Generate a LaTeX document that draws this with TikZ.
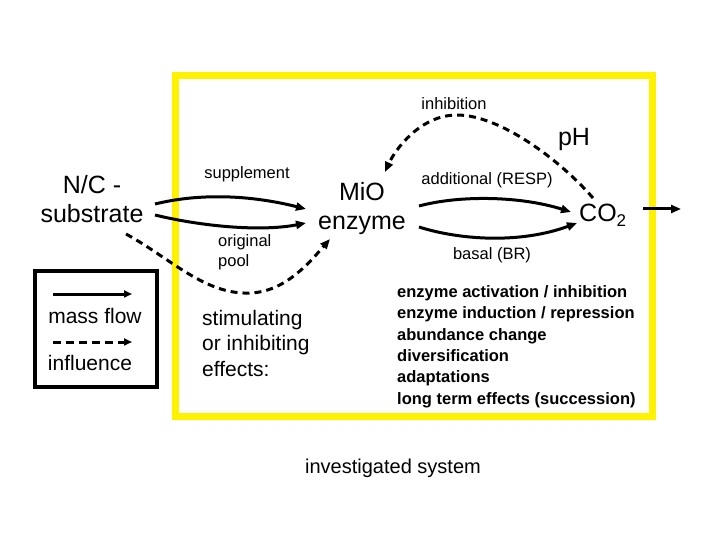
\documentclass[tikz,border=0pt]{standalone}
\usepackage{fontspec}
\setmainfont{Liberation Sans}
\usetikzlibrary{arrows.meta}
\tikzset{
  flow/.style={line width=3pt,-{Triangle[length=10pt,width=8pt]}},
  infl/.style={line width=3pt,dash pattern=on 7pt off 5pt,-{Triangle[length=10pt,width=8pt]}},
  big/.style={font=\fontsize{25}{29}\selectfont,inner sep=0pt},
  small/.style={font=\fontsize{16.5}{20}\selectfont,inner sep=0pt},
  mid/.style={font=\fontsize{21}{25.5}\selectfont,inner sep=0pt},
}
\begin{document}
\begin{tikzpicture}[x=1pt,y=-1pt]
\useasboundingbox (0,0) rectangle (720,540);
% investigated system frame
\draw[yellow,line width=7pt] (175,76) rectangle (652,416);
% main nodes
\node[big,align=center] (sub) at (92,199) {N/C -\\substrate};
\node[big,align=center] (mio) at (362,209) {MiO\\enzyme};
\node[big,anchor=west] (co2) at (579,215) {CO\raisebox{-0.4ex}{\fontsize{17}{17}\selectfont 2}};
\node[big] (ph) at (574,139) {pH};
% labels
\node[small] (linh) at (454,104) {inhibition};
\node[small] (lsup) at (247,174) {supplement};
\node[small,anchor=west,align=left] (lorig) at (218,252) {original\\pool};
\node[small] (ladd) at (487,180) {additional (RESP)};
\node[small] (lbas) at (492,255) {basal (BR)};
\node[mid,anchor=west,align=left] (lstim) at (202,343) {stimulating\\or inhibiting\\effects:};
\node[font=\fontsize{16.5}{21.4}\selectfont\bfseries,inner sep=0pt,anchor=west,align=left] (llist) at (397,346.5)
  {enzyme activation / inhibition\\enzyme induction / repression\\abundance change\\diversification\\adaptations\\long term effects (succession)};
\node[font=\fontsize{20}{24}\selectfont,inner sep=0pt] (lsys) at (393,468) {investigated system};
% connector end points
\coordinate (s1) at (155,204);
\coordinate (s2) at (155,215);
\coordinate (s3) at (126,234);
\coordinate (m1) at (306,209);
\coordinate (m2) at (306,223);
\coordinate (m3) at (330,239);
\coordinate (m4) at (385,172);
\coordinate (e1) at (419,206);
\coordinate (e2) at (419,227);
\coordinate (c1) at (571,212);
\coordinate (c2) at (577,223);
\coordinate (c3) at (593,198);
\coordinate (o1) at (643,209);
\coordinate (o2) at (681,209);
% connectors
\draw[flow] (s1) .. controls (200,193) and (250,195) .. (m1);
\draw[flow] (s2) .. controls (200,226) and (260,232) .. (m2);
\draw[infl] (s3) .. controls (170,258) and (205,295) .. (250,293) .. controls (285,292) and (310,262) .. (m3);
\draw[flow] (e1) .. controls (460,195) and (520,196) .. (c1);
\draw[flow] (e2) .. controls (460,240) and (520,244) .. (c2);
\draw[infl] (c3) .. controls (560,160) and (500,115) .. (457,115) .. controls (420,115) and (395,150) .. (m4);
\draw[flow] (o1) -- (o2);
% legend
\draw[line width=3.5pt] (35,271) rectangle (157,387);
\coordinate (la1) at (53,294);
\coordinate (la2) at (132,294);
\coordinate (lb1) at (53,342);
\coordinate (lb2) at (132,342);
\draw[line width=3pt,-{Triangle[length=8pt,width=7pt]}] (la1) -- (la2);
\draw[line width=3pt,dash pattern=on 8pt off 5pt,-{Triangle[length=8pt,width=7pt]}] (lb1) -- (lb2);
\node[mid] (lmass) at (95,316) {mass flow};
\node[mid] (linfl) at (90,363) {influence};
\end{tikzpicture}
\end{document}
